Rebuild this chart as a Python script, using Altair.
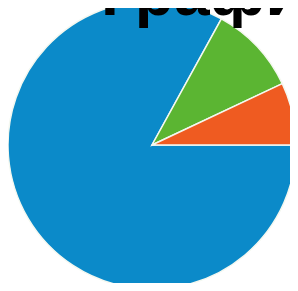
import math
import altair as alt
import pandas as pd

categories = ["A", "B", "C"]
values = [83, 10, 7]
colors = ["#0b8ac9", "#5bb532", "#ef5b21"]
title_text = "График"

df = pd.DataFrame({"cat": categories, "val": values, "i": list(range(len(values)))})

chart = alt.Chart(df).mark_arc(
    outerRadius=144, stroke="#f4f8f0", strokeWidth=1.5
).encode(
    x=alt.value(144),
    y=alt.value(137),
    theta=alt.Theta("val:Q", stack=True,
                    scale=alt.Scale(range=[math.pi / 2, math.pi / 2 + 2 * math.pi])),
    color=alt.Color("cat:N", scale=alt.Scale(domain=categories, range=colors), legend=None),
    order=alt.Order("i:Q"),
).properties(
    width=282,
    height=275,
    autosize=alt.AutoSizeParams(type="none"),
    padding=0,
    title=alt.TitleParams(
        text=title_text, anchor="start", frame="group", offset=0,
        dx=93, dy=81, fontSize=64, fontWeight="bold", font="Liberation Sans",
        baseline="alphabetic", color="#000000",
    ),
).configure_view(stroke=None)

chart.save("out.html", embed_options={"renderer": "svg", "actions": False})
